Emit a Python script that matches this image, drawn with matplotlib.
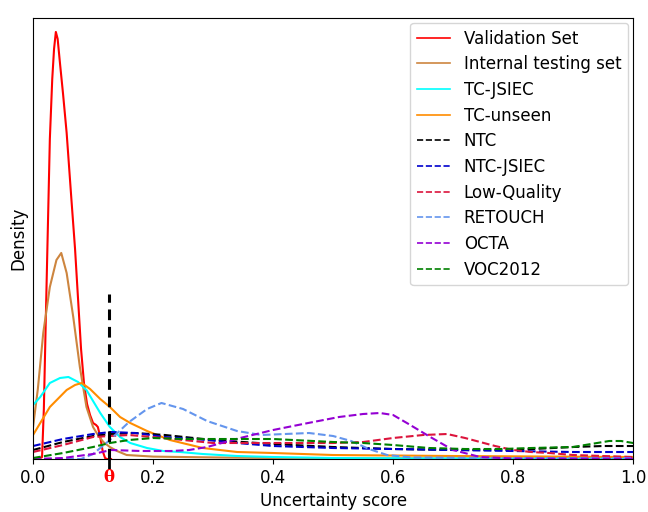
import matplotlib
matplotlib.use("Agg")
import matplotlib.pyplot as plt

# density curves (x = uncertainty score, y = density, arbitrary units)
val_x = [0.000, 0.010, 0.015, 0.018, 0.022, 0.025, 0.028, 0.032, 0.035, 0.038, 0.041, 0.045,
         0.050, 0.056, 0.064, 0.070, 0.075, 0.080, 0.085, 0.090, 0.095, 0.100, 0.105, 0.108,
         0.112, 0.116, 0.120, 0.123, 0.130]
val_y = [0, 0, 0.1, 2.5, 8.0, 12.0, 16.0, 19.0, 20.5, 21.35, 21.0, 19.75,
         18.25, 16.3, 12.95, 10.5, 8.0, 5.5, 3.75, 2.75, 2.2, 1.8, 1.7, 1.6,
         1.1, 0.4, 0.05, 0, 0]

int_x = [0.0, 0.008, 0.017, 0.028, 0.039, 0.047, 0.056, 0.067, 0.078, 0.089, 0.100, 0.106,
         0.117, 0.128, 0.140, 0.156, 0.200, 0.300, 0.400, 0.600, 1.0]
int_y = [1.6, 3.5, 6.3, 8.6, 9.95, 10.3, 9.3, 7.1, 4.6, 2.6, 1.6, 1.3,
         0.85, 0.6, 0.4, 0.2, 0.12, 0.08, 0.05, 0.03, 0.02]

tcj_x = [0.0, 0.012, 0.028, 0.045, 0.059, 0.075, 0.089, 0.100, 0.112, 0.128, 0.145, 0.162,
         0.190, 0.217, 0.245, 0.283, 0.340, 0.400, 0.500, 0.700, 1.0]
tcj_y = [2.7, 3.1, 3.8, 4.05, 4.1, 3.85, 3.45, 2.9, 2.3, 1.6, 1.1, 0.8,
         0.55, 0.4, 0.35, 0.25, 0.15, 0.1, 0.05, 0.025, 0.015]

tcu_x = [0.0, 0.028, 0.056, 0.070, 0.081, 0.095, 0.112, 0.128, 0.145, 0.162, 0.190, 0.228,
         0.283, 0.340, 0.400, 0.500, 0.700, 1.0]
tcu_y = [1.2, 2.6, 3.45, 3.7, 3.8, 3.5, 3.0, 2.6, 2.1, 1.8, 1.4, 0.95,
         0.55, 0.35, 0.3, 0.2, 0.15, 0.1]

ntc_x = [0.0, 0.05, 0.10, 0.13, 0.17, 0.22, 0.30, 0.40, 0.50, 0.60, 0.70, 0.80, 0.90, 0.95, 1.0]
ntc_y = [0.45, 0.85, 1.15, 1.25, 1.3, 1.2, 0.95, 0.75, 0.6, 0.5, 0.45, 0.45, 0.6, 0.65, 0.65]

ntcj_x = [0.0, 0.05, 0.10, 0.13, 0.17, 0.22, 0.29, 0.34, 0.40, 0.50, 0.60, 0.70, 0.80, 0.90, 1.0]
ntcj_y = [0.65, 1.0, 1.25, 1.35, 1.3, 1.1, 0.95, 0.8, 0.65, 0.55, 0.5, 0.45, 0.4, 0.35, 0.35]

lq_x = [0.0, 0.05, 0.10, 0.128, 0.16, 0.217, 0.30, 0.40, 0.50, 0.55, 0.60, 0.65, 0.69, 0.72,
        0.745, 0.77, 0.80, 0.83, 0.86, 0.90, 1.0]
lq_y = [0.35, 0.7, 1.1, 1.15, 1.2, 1.05, 0.8, 0.8, 0.8, 0.85, 1.05, 1.2, 1.25, 1.05,
        0.85, 0.65, 0.45, 0.35, 0.3, 0.2, 0.1]

ret_x = [0.0, 0.08, 0.10, 0.128, 0.16, 0.19, 0.214, 0.25, 0.29, 0.34, 0.38, 0.42, 0.46, 0.50,
         0.53, 0.56, 0.59, 0.63, 0.80, 1.0]
ret_y = [0, 0, 0.25, 0.95, 1.85, 2.5, 2.8, 2.5, 1.9, 1.4, 1.2, 1.25, 1.3, 1.15,
         0.9, 0.5, 0.2, 0.08, 0.05, 0.05]

octa_x = [0.0, 0.05, 0.10, 0.13, 0.18, 0.23, 0.26, 0.29, 0.345, 0.40, 0.45, 0.51, 0.55, 0.578,
          0.60, 0.623, 0.662, 0.70, 0.745, 0.80, 1.0]
octa_y = [0, 0.05, 0.25, 0.45, 0.4, 0.4, 0.45, 0.6, 1.05, 1.45, 1.75, 2.1, 2.25, 2.3,
          2.2, 1.8, 1.1, 0.45, 0.1, 0.025, 0.015]

voc_x = [0.0, 0.05, 0.10, 0.128, 0.16, 0.20, 0.25, 0.30, 0.40, 0.50, 0.55, 0.60, 0.66, 0.72,
         0.78, 0.83, 0.90, 0.93, 0.96, 0.98, 1.0]
voc_y = [0.05, 0.3, 0.6, 0.8, 0.95, 1.05, 1.0, 1.0, 1.0, 0.85, 0.8, 0.7, 0.55, 0.5,
         0.5, 0.55, 0.6, 0.75, 0.9, 0.9, 0.8]

theta = 0.127
theta_h = 8.25

fig = plt.figure(figsize=(6.48, 5.12), dpi=100)
ax = fig.add_axes([0.051, 0.1035, 0.926, 0.8615])

ax.plot(val_x, val_y, color='red', lw=1.5, label='Validation Set')
ax.plot(int_x, int_y, color='peru', lw=1.5, label='Internal testing set')
ax.plot(tcj_x, tcj_y, color='cyan', lw=1.5, label='TC-JSIEC')
ax.plot(tcu_x, tcu_y, color='darkorange', lw=1.5, label='TC-unseen')
ax.plot(ntc_x, ntc_y, '--', color='black', lw=1.5, label='NTC')
ax.plot(ntcj_x, ntcj_y, '--', color='mediumblue', lw=1.5, label='NTC-JSIEC')
ax.plot(lq_x, lq_y, '--', color='crimson', lw=1.5, label='Low-Quality')
ax.plot(ret_x, ret_y, '--', color='cornflowerblue', lw=1.5, label='RETOUCH')
ax.plot(octa_x, octa_y, '--', color='darkviolet', lw=1.5, label='OCTA')
ax.plot(voc_x, voc_y, '--', color='green', lw=1.5, label='VOC2012')

ax.plot([theta, theta], [0, theta_h], color='black', lw=2.2, dashes=(3.5, 2.2))

ax.set_xlim(0, 1)
ax.set_ylim(0, 22.05)
ax.set_yticks([])
ax.set_xticks([0, theta, 0.2, 0.4, 0.6, 0.8, 1.0])
ax.set_xticklabels(['0.0', 'θ', '0.2', '0.4', '0.6', '0.8', '1.0'], fontsize=12)
lab = ax.get_xticklabels()[1]
lab.set_color('red')
lab.set_family('DejaVu Serif')
lab.set_fontweight('bold')
ax.xaxis.get_major_ticks()[1].tick1line.set_markersize(7)
ax.xaxis.get_major_ticks()[1].tick1line.set_markeredgewidth(2)

ax.set_xlabel('Uncertainty score', fontsize=12)
ax.set_ylabel('Density', fontsize=12)
leg = ax.legend(loc='upper right', fontsize=12, borderaxespad=0.3, labelspacing=0.46)
for line in leg.get_lines():
    line.set_linewidth(1.2)

fig.savefig('out.png', dpi=100)
